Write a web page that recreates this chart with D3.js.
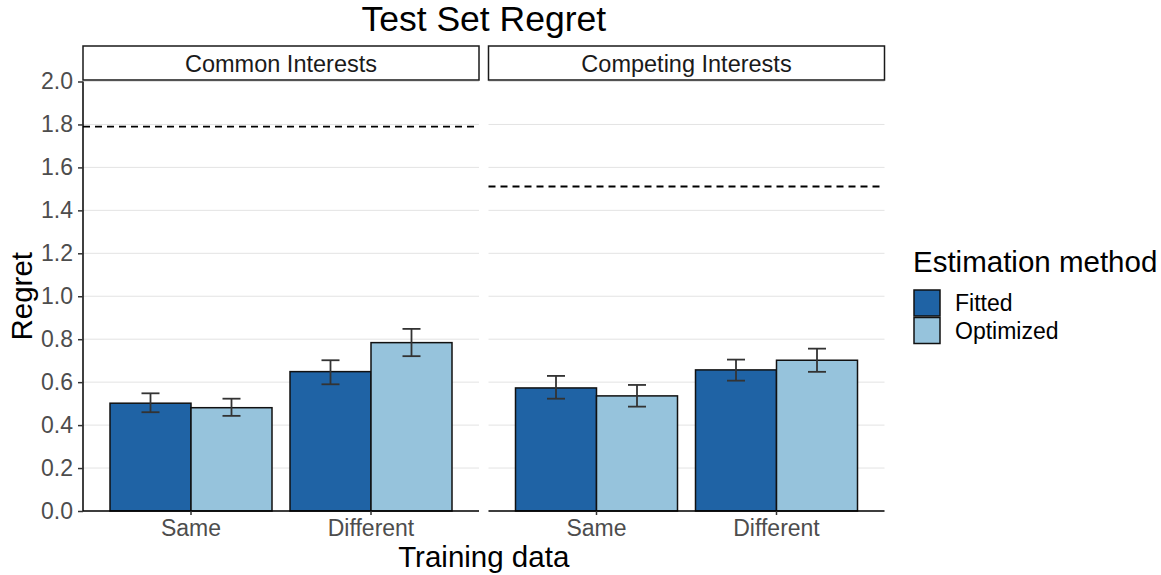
<!DOCTYPE html>
<html>
<head>
<meta charset="utf-8">
<script src="https://cdnjs.cloudflare.com/ajax/libs/d3/7.8.5/d3.min.js"></script>
<style>
  body { margin: 0; background: #fff; }
  svg { font-family: "Liberation Sans", Arial, sans-serif; }
</style>
</head>
<body>
<svg id="chart" width="1161" height="575"></svg>
<script>
var facets = ["Common Interests", "Competing Interests"];
var trainings = ["Same", "Different"];
var methods = ["Fitted", "Optimized"];
var colors = ["#1f63a5", "#96c3dc"];

// regret per facet, [training][method]
var means = [
    [[0.502, 0.481], [0.649, 0.784]],
    [[0.573, 0.536], [0.657, 0.702]]
];
var lower = [
    [[0.460, 0.443], [0.590, 0.721]],
    [[0.523, 0.486], [0.607, 0.648]]
];
var upper = [
    [[0.548, 0.523], [0.702, 0.848]],
    [[0.629, 0.587], [0.705, 0.756]]
];
var baselines = [1.790, 1.511];
var yTicks = [0, 0.2, 0.4, 0.6, 0.8, 1.0, 1.2, 1.4, 1.6, 1.8, 2.0];

var svg = d3.select("#chart");
var panelLeft = [83, 488.5];
var panelWidth = 396;
var plotTop = 81.5, plotBottom = 511;

var y = d3.scaleLinear().domain([0, 2]).range([plotBottom, plotTop]);

var x = d3.scaleBand()
    .domain(trainings)
    .range([0, panelWidth])
    .paddingInner(0.1)
    .paddingOuter(0.15);

var xm = d3.scaleBand()
    .domain(methods)
    .range([0, x.bandwidth()]);

// title
svg.append("text")
    .attr("x", (panelLeft[0] + panelLeft[1] + panelWidth) / 2)
    .attr("y", 31)
    .attr("text-anchor", "middle")
    .attr("font-size", 35.5)
    .attr("fill", "#000")
    .text("Test Set Regret");

facets.forEach(function(f, fi) {
    var g = svg.append("g").attr("transform", "translate(" + panelLeft[fi] + ",0)");

    // grid
    g.selectAll(".grid")
        .data(yTicks)
        .enter()
        .append("line")
        .attr("x1", 0)
        .attr("x2", panelWidth)
        .attr("y1", function(d) { return y(d); })
        .attr("y2", function(d) { return y(d); })
        .attr("stroke", "#e3e3e3")
        .attr("stroke-width", 1);

    // strip
    g.append("rect")
        .attr("x", 0)
        .attr("y", 46)
        .attr("width", panelWidth)
        .attr("height", 34)
        .attr("fill", "#fff")
        .attr("stroke", "#1a1a1a")
        .attr("stroke-width", 1.5);
    g.append("text")
        .attr("x", panelWidth / 2)
        .attr("y", 72)
        .attr("text-anchor", "middle")
        .attr("font-size", 23.5)
        .attr("fill", "#1a1a1a")
        .text(f);

    // baseline
    g.append("line")
        .attr("x1", 0)
        .attr("x2", panelWidth)
        .attr("y1", y(baselines[fi]))
        .attr("y2", y(baselines[fi]))
        .attr("stroke", "#000")
        .attr("stroke-width", 1.8)
        .attr("stroke-dasharray", "7,5");

    // bars
    trainings.forEach(function(t, ti) {
        methods.forEach(function(m, mi) {
            var bx = x(t) + xm(m);
            g.append("rect")
                .attr("x", bx)
                .attr("y", y(means[fi][ti][mi]))
                .attr("width", xm.bandwidth())
                .attr("height", plotBottom - y(means[fi][ti][mi]))
                .attr("fill", colors[mi])
                .attr("stroke", "#111")
                .attr("stroke-width", 1.5);
        });
    });

    // error bars
    trainings.forEach(function(t, ti) {
        methods.forEach(function(m, mi) {
            var cx = x(t) + xm(m) + xm.bandwidth() / 2;
            var hw = 9;
            var eb = g.append("g").attr("stroke", "#333").attr("stroke-width", 1.8).attr("fill", "none");
            eb.append("line").attr("x1", cx).attr("x2", cx)
                .attr("y1", y(lower[fi][ti][mi])).attr("y2", y(upper[fi][ti][mi]));
            eb.append("line").attr("x1", cx - hw).attr("x2", cx + hw)
                .attr("y1", y(lower[fi][ti][mi])).attr("y2", y(lower[fi][ti][mi]));
            eb.append("line").attr("x1", cx - hw).attr("x2", cx + hw)
                .attr("y1", y(upper[fi][ti][mi])).attr("y2", y(upper[fi][ti][mi]));
        });
    });

    // x axis
    var xAxis = g.append("g")
        .attr("transform", "translate(0," + plotBottom + ")")
        .call(d3.axisBottom(x).tickSize(4).tickPadding(3));
    xAxis.select(".domain").attr("stroke", "#000").attr("stroke-width", 1.5).attr("d", "M0,0H" + panelWidth);
    xAxis.selectAll(".tick line").attr("stroke", "#333").attr("stroke-width", 1.5);
    xAxis.selectAll(".tick text")
        .attr("font-size", 23)
        .attr("fill", "#4d4d4d")
        .attr("font-family", "Liberation Sans, Arial, sans-serif")
        .attr("dy", "0.8em");

    if (fi === 0) {
        var yAxis = g.append("g")
            .call(d3.axisLeft(y).tickValues(yTicks).tickFormat(d3.format(".1f")).tickSize(5).tickPadding(5));
        yAxis.select(".domain").attr("stroke", "#000").attr("stroke-width", 1.5).attr("d", "M0," + plotTop + "V" + plotBottom);
        yAxis.selectAll(".tick line").attr("stroke", "#333").attr("stroke-width", 1.5);
        yAxis.selectAll(".tick text")
            .attr("font-size", 23)
            .attr("fill", "#4d4d4d")
            .attr("font-family", "Liberation Sans, Arial, sans-serif");
    }
});

// axis titles
svg.append("text")
    .attr("x", (panelLeft[0] + panelLeft[1] + panelWidth) / 2)
    .attr("y", 567)
    .attr("text-anchor", "middle")
    .attr("font-size", 29.5)
    .attr("fill", "#000")
    .text("Training data");

svg.append("text")
    .attr("transform", "translate(32," + (plotTop + plotBottom) / 2 + ") rotate(-90)")
    .attr("text-anchor", "middle")
    .attr("font-size", 29.5)
    .attr("fill", "#000")
    .text("Regret");

// legend
var legend = svg.append("g").attr("transform", "translate(913,0)");
legend.append("text")
    .attr("x", 0)
    .attr("y", 272)
    .attr("font-size", 29.5)
    .attr("fill", "#000")
    .text("Estimation method");
methods.forEach(function(m, i) {
    legend.append("rect")
        .attr("x", 1)
        .attr("y", 290 + i * 27.5)
        .attr("width", 26)
        .attr("height", 26)
        .attr("fill", colors[i])
        .attr("stroke", "#111")
        .attr("stroke-width", 1.5);
    legend.append("text")
        .attr("x", 42)
        .attr("y", 303 + i * 27.5)
        .attr("dy", "0.35em")
        .attr("font-size", 23)
        .attr("fill", "#000")
        .text(m);
});
</script>
</body>
</html>
